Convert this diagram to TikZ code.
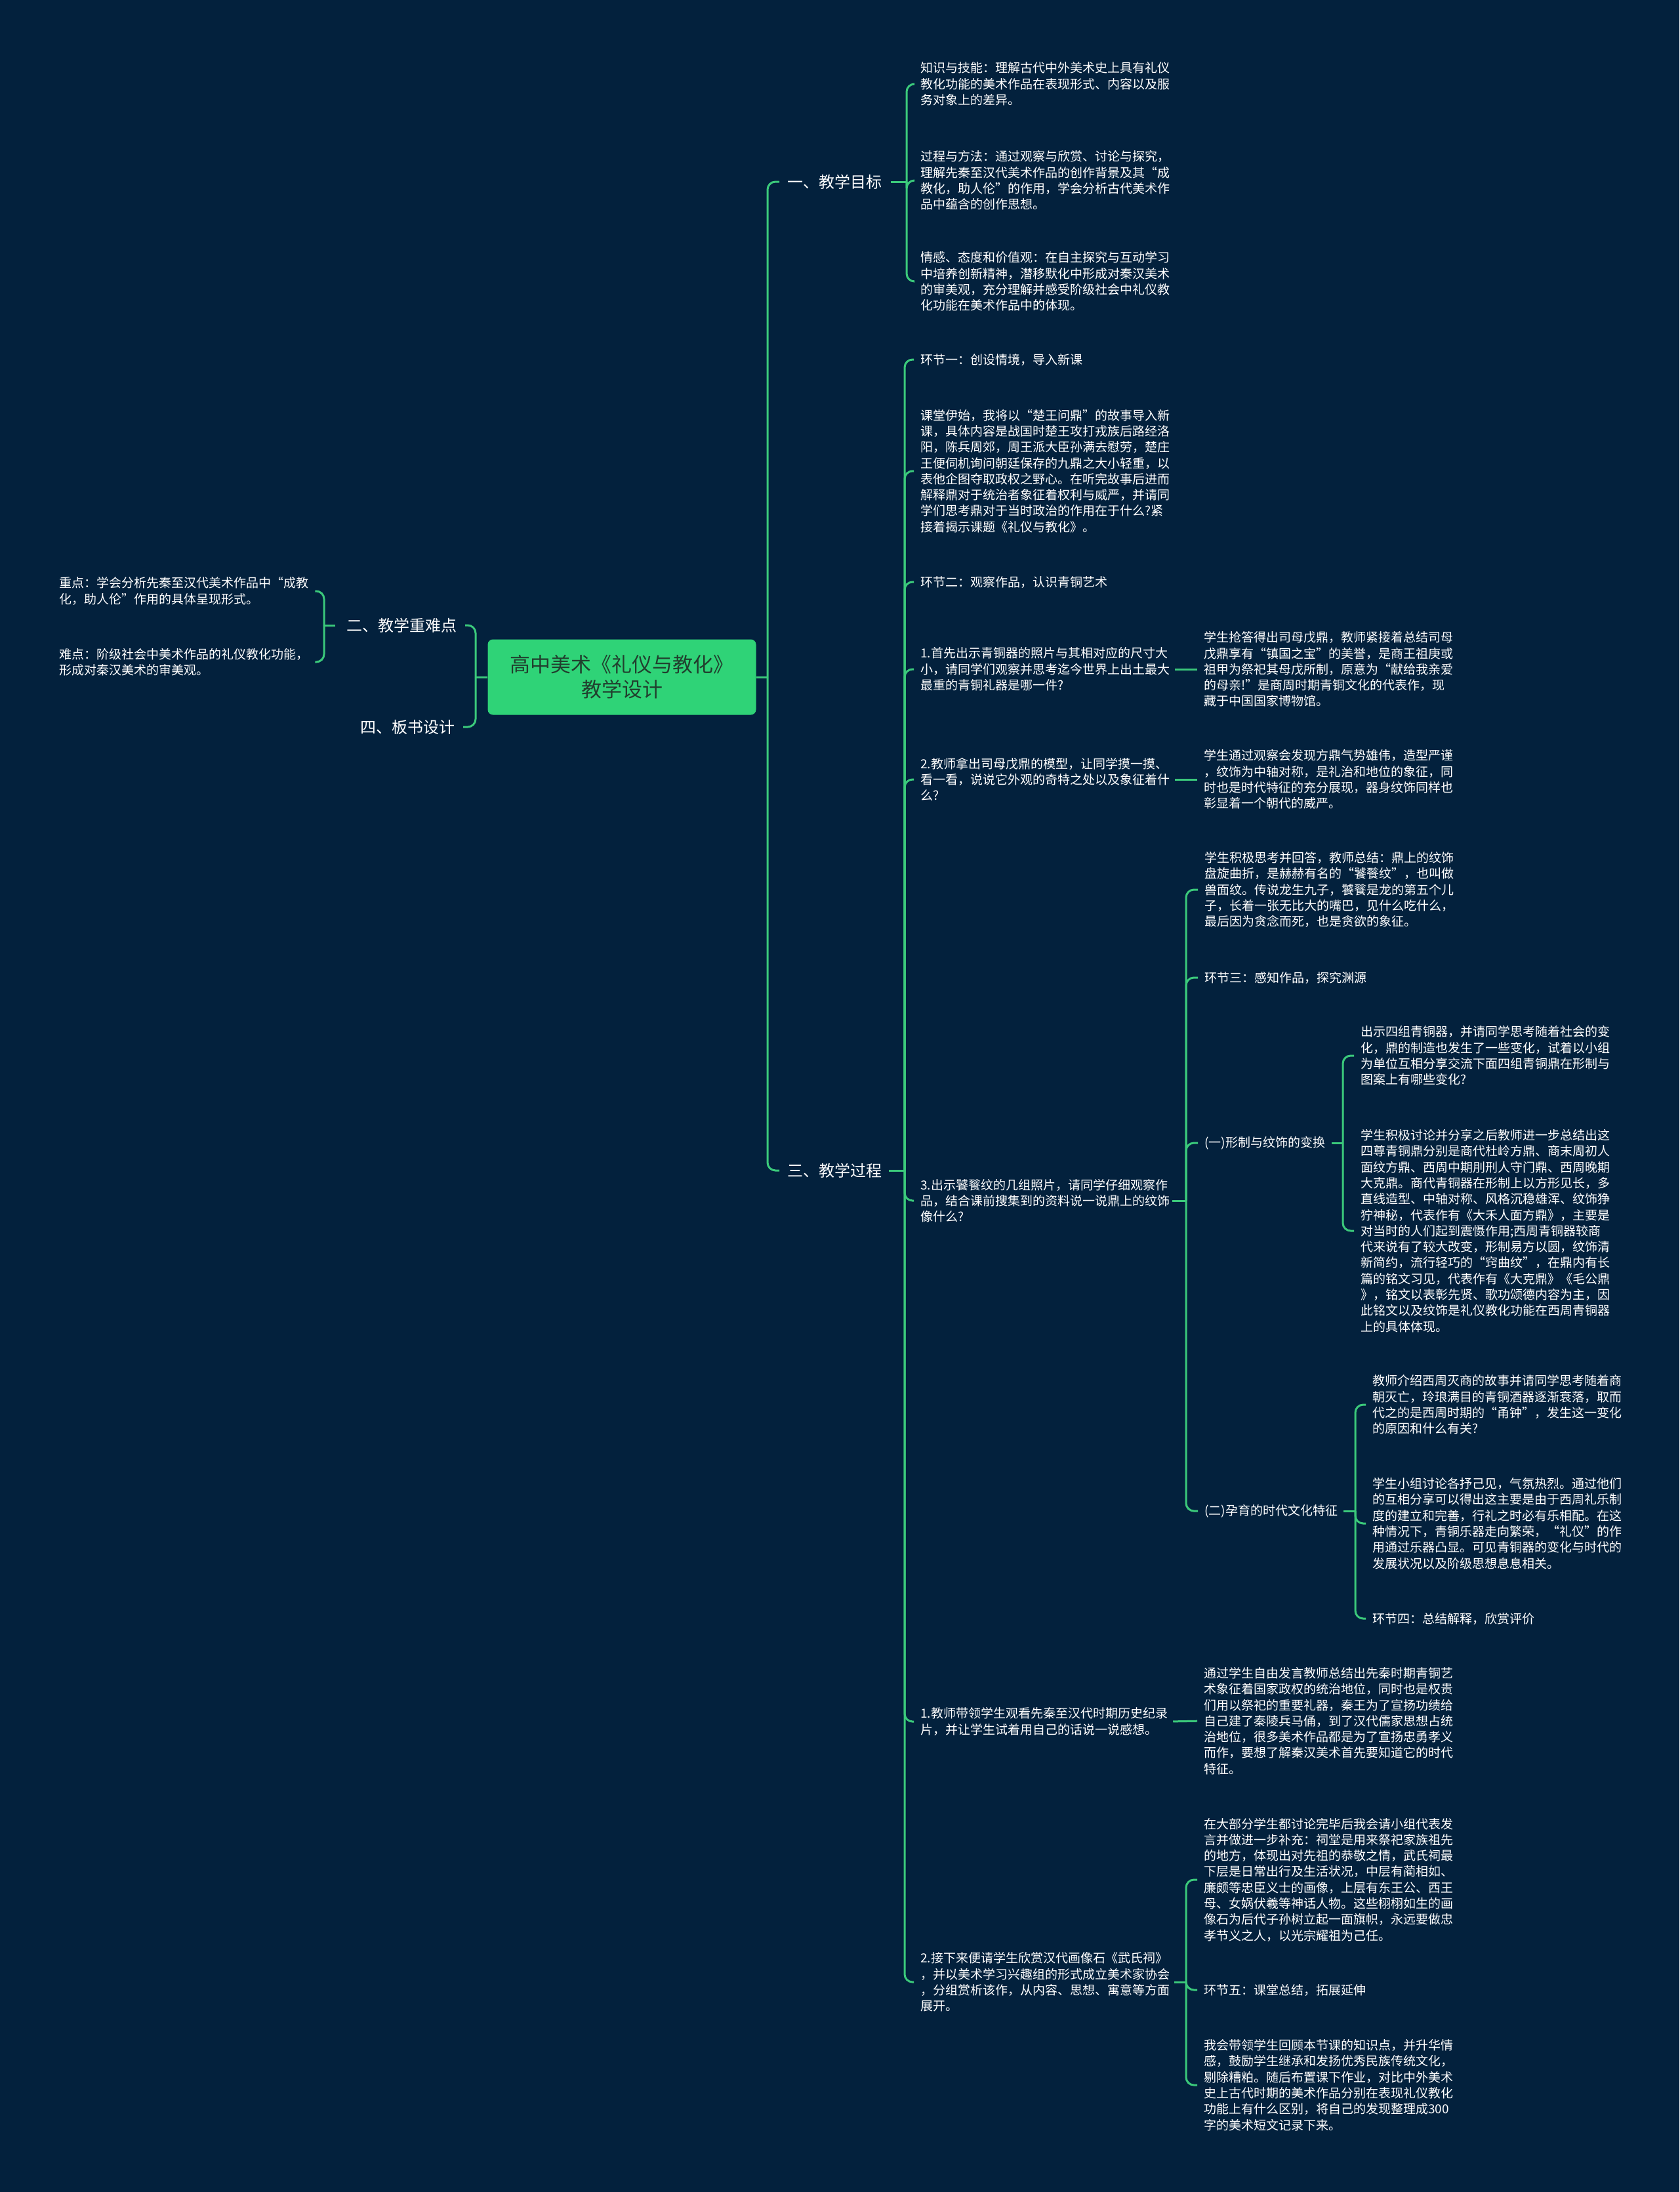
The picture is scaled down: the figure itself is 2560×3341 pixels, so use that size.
\documentclass[tikz,border=0pt]{standalone}
\usepackage{fontspec}
\setmainfont{Noto Sans CJK SC}
\usetikzlibrary{calc}
\definecolor{bgc}{HTML}{03213D}
\definecolor{lineg}{HTML}{3BC97B}
\definecolor{rootc}{HTML}{2FD377}
\definecolor{roottxt}{HTML}{213F2E}
\newcommand\fleaf{\fontsize{19}{24.3}\selectfont}
\newcommand\flab{\fontsize{24}{29}\selectfont}
\newcommand\froot{\fontsize{31}{38}\selectfont}
\begin{document}
\begin{tikzpicture}[x=1pt,y=-1pt,
  conn/.style={draw=lineg, line width=3pt, rounded corners=12pt},
  leaf/.style={text=white, font=\fleaf, align=left, inner sep=0pt, anchor=west},
  lab/.style={text=white, font=\flab, inner sep=0pt},
  rootbox/.style={fill=rootc, rounded corners=8pt, minimum width=409pt, minimum height=115pt, text=roottxt, font=\froot, align=center, inner sep=0pt}
  ]
\fill[bgc] (0,0) rectangle (2560,3341);
\useasboundingbox (0,0) rectangle (2560,3341);

% bracket x positions
\coordinate (tR) at (1170,0);
\coordinate (tL) at (725,0);
\coordinate (br1) at (1382,0);
\coordinate (br3) at (1379,0);
\coordinate (br6) at (1808,0);
\coordinate (br6c) at (2047,0);
\coordinate (br6d) at (2066,0);
\coordinate (br8) at (1808,0);
\coordinate (bl2) at (494,0);

% root
\node[rootbox] (root) at (948,1032) {高中美术《礼仪与教化》\\教学设计};

% main branches
\node[lab, anchor=west] (b1) at (1200,277) {一、教学目标};
\node[lab, anchor=west] (b3) at (1200,1784) {三、教学过程};
\node[lab, anchor=east] (b2) at (697,953) {二、教学重难点};
\node[lab, anchor=east] (b4) at (694,1108) {四、板书设计};

% 一
\node[leaf] (a1) at (1403,128) {知识与技能：理解古代中外美术史上具有礼仪\\教化功能的美术作品在表现形式、内容以及服\\务对象上的差异。};
\node[leaf] (a2) at (1403,275) {过程与方法：通过观察与欣赏、讨论与探究，\\理解先秦至汉代美术作品的创作背景及其“成\\教化，助人伦”的作用，学会分析古代美术作\\品中蕴含的创作思想。};
\node[leaf] (a3) at (1403,429) {情感、态度和价值观：在自主探究与互动学习\\中培养创新精神，潜移默化中形成对秦汉美术\\的审美观，充分理解并感受阶级社会中礼仪教\\化功能在美术作品中的体现。};

% 二
\node[leaf] (l1) at (90,901) {重点：学会分析先秦至汉代美术作品中“成教\\化，助人伦”作用的具体呈现形式。};
\node[leaf] (l2) at (90,1009) {难点：阶级社会中美术作品的礼仪教化功能，\\形成对秦汉美术的审美观。};

% 三
\node[leaf] (c1) at (1403,548) {环节一：创设情境，导入新课};
\node[leaf] (c2) at (1403,718) {课堂伊始，我将以“楚王问鼎”的故事导入新\\课，具体内容是战国时楚王攻打戎族后路经洛\\阳，陈兵周郊，周王派大臣孙满去慰劳，楚庄\\王便伺机询问朝廷保存的九鼎之大小轻重，以\\表他企图夺取政权之野心。在听完故事后进而\\解释鼎对于统治者象征着权利与威严，并请同\\学们思考鼎对于当时政治的作用在于什么?紧\\接着揭示课题《礼仪与教化》。};
\node[leaf] (c3) at (1403,887) {环节二：观察作品，认识青铜艺术};
\node[leaf] (c4) at (1403,1020) {1.首先出示青铜器的照片与其相对应的尺寸大\\小，请同学们观察并思考迄今世界上出土最大\\最重的青铜礼器是哪一件?};
\node[leaf] (c4a) at (1835,1020) {学生抢答得出司母戊鼎，教师紧接着总结司母\\戊鼎享有“镇国之宝”的美誉，是商王祖庚或\\祖甲为祭祀其母戊所制，原意为“献给我亲爱\\的母亲!”是商周时期青铜文化的代表作，现\\藏于中国国家博物馆。};
\node[leaf] (c5) at (1403,1188) {2.教师拿出司母戊鼎的模型，让同学摸一摸、\\看一看，说说它外观的奇特之处以及象征着什\\么?};
\node[leaf] (c5a) at (1835,1188) {学生通过观察会发现方鼎气势雄伟，造型严谨\\，纹饰为中轴对称，是礼治和地位的象征，同\\时也是时代特征的充分展现，器身纹饰同样也\\彰显着一个朝代的威严。};
\node[leaf] (c6) at (1403,1830) {3.出示饕餮纹的几组照片，请同学仔细观察作\\品，结合课前搜集到的资料说一说鼎上的纹饰\\像什么?};
\node[leaf] (c6a) at (1836,1356) {学生积极思考并回答，教师总结：鼎上的纹饰\\盘旋曲折，是赫赫有名的“饕餮纹”，也叫做\\兽面纹。传说龙生九子，饕餮是龙的第五个儿\\子，长着一张无比大的嘴巴，见什么吃什么，\\最后因为贪念而死，也是贪欲的象征。};
\node[leaf] (c6b) at (1836,1490) {环节三：感知作品，探究渊源};
\node[leaf] (c6c) at (1836,1742) {(一)形制与纹饰的变换};
\node[leaf] (c6c1) at (2074,1609) {出示四组青铜器，并请同学思考随着社会的变\\化，鼎的制造也发生了一些变化，试着以小组\\为单位互相分享交流下面四组青铜鼎在形制与\\图案上有哪些变化?};
\node[leaf] (c6c2) at (2074,1876) {学生积极讨论并分享之后教师进一步总结出这\\四尊青铜鼎分别是商代杜岭方鼎、商末周初人\\面纹方鼎、西周中期刖刑人守门鼎、西周晚期\\大克鼎。商代青铜器在形制上以方形见长，多\\直线造型、中轴对称、风格沉稳雄浑、纹饰狰\\狞神秘，代表作有《大禾人面方鼎》，主要是\\对当时的人们起到震慑作用;西周青铜器较商\\代来说有了较大改变，形制易方以圆，纹饰清\\新简约，流行轻巧的“窍曲纹”，在鼎内有长\\篇的铭文习见，代表作有《大克鼎》《毛公鼎\\》，铭文以表彰先贤、歌功颂德内容为主，因\\此铭文以及纹饰是礼仪教化功能在西周青铜器\\上的具体体现。};
\node[leaf] (c6d) at (1836,2303) {(二)孕育的时代文化特征};
\node[leaf] (c6d1) at (2092,2141) {教师介绍西周灭商的故事并请同学思考随着商\\朝灭亡，玲琅满目的青铜酒器逐渐衰落，取而\\代之的是西周时期的“甬钟”，发生这一变化\\的原因和什么有关?};
\node[leaf] (c6d2) at (2092,2322) {学生小组讨论各抒己见，气氛热烈。通过他们\\的互相分享可以得出这主要是由于西周礼乐制\\度的建立和完善，行礼之时必有乐相配。在这\\种情况下，青铜乐器走向繁荣，“礼仪”的作\\用通过乐器凸显。可见青铜器的变化与时代的\\发展状况以及阶级思想息息相关。};
\node[leaf] (c6d3) at (2092,2467) {环节四：总结解释，欣赏评价};
\node[leaf] (c7) at (1403,2624) {1.教师带领学生观看先秦至汉代时期历史纪录\\片，并让学生试着用自己的话说一说感想。};
\node[leaf] (c7a) at (1835,2623) {通过学生自由发言教师总结出先秦时期青铜艺\\术象征着国家政权的统治地位，同时也是权贵\\们用以祭祀的重要礼器，秦王为了宣扬功绩给\\自己建了秦陵兵马俑，到了汉代儒家思想占统\\治地位，很多美术作品都是为了宣扬忠勇孝义\\而作，要想了解秦汉美术首先要知道它的时代\\特征。};
\node[leaf] (c8) at (1403,3021) {2.接下来便请学生欣赏汉代画像石《武氏祠》\\，并以美术学习兴趣组的形式成立美术家协会\\，分组赏析该作，从内容、思想、寓意等方面\\展开。};
\node[leaf] (c8a) at (1835,2865) {在大部分学生都讨论完毕后我会请小组代表发\\言并做进一步补充：祠堂是用来祭祀家族祖先\\的地方，体现出对先祖的恭敬之情，武氏祠最\\下层是日常出行及生活状况，中层有蔺相如、\\廉颇等忠臣义士的画像，上层有东王公、西王\\母、女娲伏羲等神话人物。这些栩栩如生的画\\像石为后代子孙树立起一面旗帜，永远要做忠\\孝节义之人，以光宗耀祖为己任。};
\node[leaf] (c8b) at (1835,3033) {环节五：课堂总结，拓展延伸};
\node[leaf] (c8c) at (1835,3178) {我会带领学生回顾本节课的知识点，并升华情\\感，鼓励学生继承和发扬优秀民族传统文化，\\剔除糟粕。随后布置课下作业，对比中外美术\\史上古代时期的美术作品分别在表现礼仪教化\\功能上有什么区别，将自己的发现整理成300\\字的美术短文记录下来。};

% ---- connectors ----
% root right
\draw[conn] (root.east) -- (root.east -| tR);
\foreach \n in {b1,b3} \draw[conn] (root.east -| tR) |- ($(\n.west)+(-12,0)$);
% root left
\draw[conn] (root.west) -- (root.west -| tL);
\foreach \n in {b2,b4} \draw[conn] (root.west -| tL) |- ($(\n.east)+(12,0)$);

% 一
\draw[conn] ($(b1.east -| br1)+(-24,0)$) -- (b1.east -| br1);
\foreach \n in {a1,a2,a3} \draw[conn] (b1.east -| br1) |- ($(\n.west)+(-10,0)$);

% 二
\draw[conn] ($(b2.west -| bl2)+(17,0)$) -- (b2.west -| bl2);
\foreach \n in {l1,l2} \draw[conn] (b2.west -| bl2) |- ($(\n.east)+(10,0)$);

% 三
\draw[conn] ($(b3.east -| br3)+(-24,0)$) -- (b3.east -| br3);
\foreach \n in {c1,c2,c3,c4,c5,c6,c7,c8} \draw[conn] (b3.east -| br3) |- ($(\n.west)+(-10,0)$);

% direct pairs
\draw[conn, shorten <=8pt, shorten >=10pt] (c4.east) -- (c4a.west);
\draw[conn, shorten <=8pt, shorten >=10pt] (c5.east) -- (c5a.west);
\draw[conn, shorten <=8pt, shorten >=10pt] (c7.east) -- (c7a.west);

% 3.
\draw[conn] ($(c6.west -| br6)+(-21,0)$) -- (c6.west -| br6);
\foreach \n in {c6a,c6b,c6c,c6d} \draw[conn] (c6.west -| br6) |- ($(\n.west)+(-10,0)$);

% (一)
\draw[conn] ($(c6c.west -| br6c)+(-17,0)$) -- (c6c.west -| br6c);
\foreach \n in {c6c1,c6c2} \draw[conn] (c6c.west -| br6c) |- ($(\n.west)+(-10,0)$);

% (二)
\draw[conn] ($(c6d.west -| br6d)+(-18,0)$) -- (c6d.west -| br6d);
\foreach \n in {c6d1,c6d2,c6d3} \draw[conn] (c6d.west -| br6d) |- ($(\n.west)+(-10,0)$);

% 2.接下来
\draw[conn] ($(c8.west -| br8)+(-18,0)$) -- (c8.west -| br8);
\foreach \n in {c8a,c8b,c8c} \draw[conn] (c8.west -| br8) |- ($(\n.west)+(-10,0)$);
\end{tikzpicture}
\end{document}
